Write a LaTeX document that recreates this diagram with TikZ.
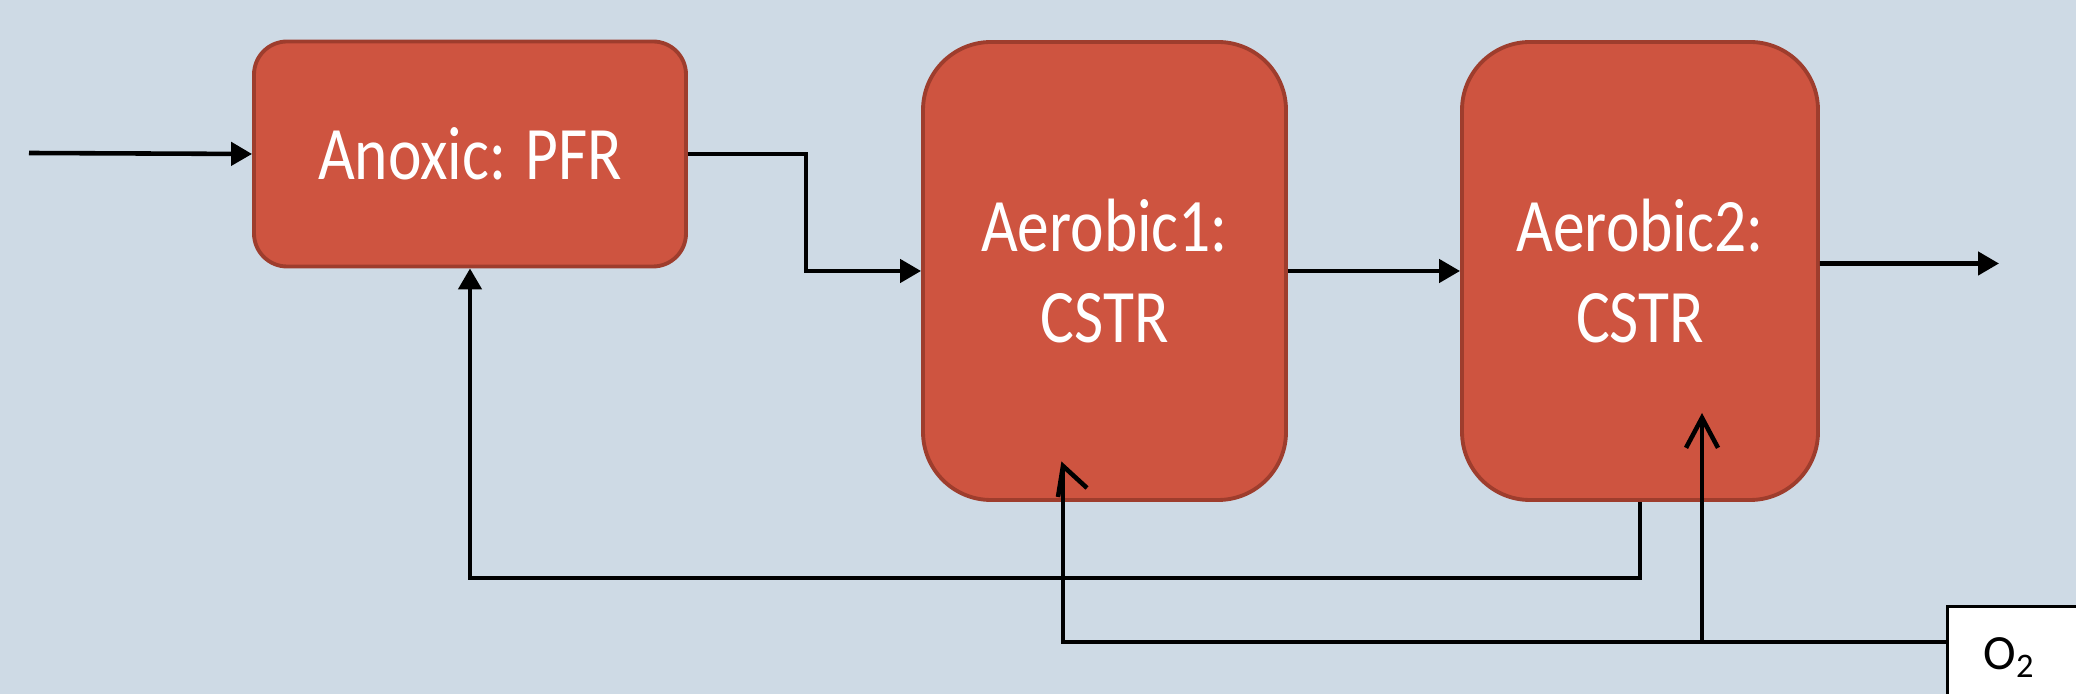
\documentclass[tikz,border=0pt]{standalone}
\usepackage{fontspec}
\setmainfont{Carlito}
\newfontfamily\boxfont{Carlito}[FakeStretch=0.84]
\usetikzlibrary{arrows.meta}
\definecolor{paper}{HTML}{CEDAE5}
\definecolor{brick}{HTML}{CE5440}
\definecolor{darkbrick}{HTML}{9E3D2D}

\begin{document}
\begin{tikzpicture}[>={Triangle[length=0.21cm,width=0.23cm]},
  flow/.style={line width=1.3pt},
  reactor/.style={draw=darkbrick,line width=1.1pt,fill=brick,text=white,align=center,
    font=\boxfont\fontsize{21.5}{26}\selectfont},
  o2feed/.style={flow,-{Straight Barb[length=0.3cm,width=0.32cm]}}]
\fill[paper] (0,0) rectangle (20.76,-6.94);
\clip (0,0) rectangle (20.76,-6.94);
% reactors
\node[reactor,rounded corners=0.33cm,minimum width=4.32cm,minimum height=2.25cm] (anoxic) at (4.70,-1.54) {Anoxic: PFR};
\node[reactor,rounded corners=0.68cm,minimum width=3.63cm,minimum height=4.58cm] (aer1) at (11.045,-2.71) {Aerobic1:\\CSTR};
\node[reactor,rounded corners=0.68cm,minimum width=3.56cm,minimum height=4.58cm] (aer2) at (16.40,-2.71) {Aerobic2:\\CSTR};
\node[draw,fill=white,line width=0.9pt,anchor=north west,text width=1.2cm,inner xsep=0.36cm,
  minimum height=1.02cm,align=left,font=\fontsize{14}{16}\selectfont] (o2) at (19.46,-6.05) {O\textsubscript{2}};
\coordinate (in) at (0.29,-1.53);
\coordinate (out) at (19.99,-2.635);
\coordinate (o2in) at ([yshift=-0.37cm]o2.north west);
\coordinate (a1tip) at (10.63,-4.66);
\coordinate (a2tip) at (17.02,-4.13);
% main line
\draw[flow,->] (in) -- (anoxic.west);
\draw[flow,->] (anoxic.east) -- ++(1.18,0) |- (aer1.west);
\draw[flow,->] (aer1.east) -- (aer2.west);
\draw[flow,->] ([yshift=0.075cm]aer2.east) -- (out);
% recycle
\draw[flow,->] (aer2.south) -- ++(0,-0.76) -| (anoxic.south);
% oxygen
\draw[flow] (o2in) -| (a1tip);
\draw[flow] ([shift={(-0.05,-0.31)}]a1tip) -- (a1tip) -- ++(0.24,-0.22);
\draw[o2feed] (o2in -| a2tip) -- (a2tip);
\end{tikzpicture}
\end{document}
